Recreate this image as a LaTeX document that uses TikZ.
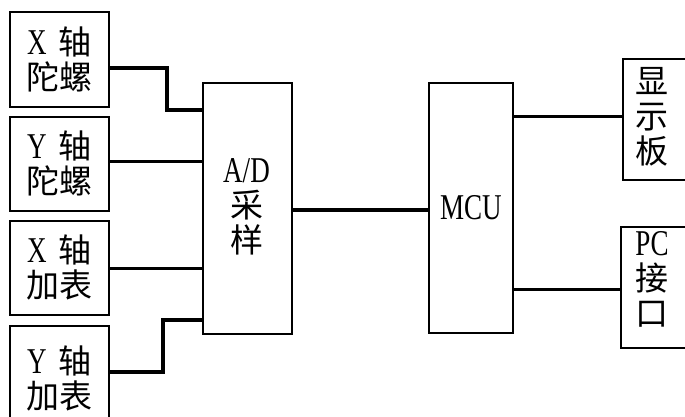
\documentclass[tikz,border=0pt]{standalone}
\usepackage{fontspec}
\setmainfont{Liberation Serif}
\newfontfamily\cjk{Noto Sans CJK SC}
\newcommand\zh[1]{{\cjk #1}}
\newcommand\lat[1]{\scalebox{0.82}[1.1]{#1}}
\begin{document}
\begin{tikzpicture}[x=1pt,y=-1pt,
  box/.style={draw,line width=1.8pt,rectangle,inner sep=0pt,anchor=north west},
  txt/.style={align=center,inner sep=0pt,font=\fontsize{33}{35}\selectfont},
  thin/.style={line width=3pt},
  thick/.style={line width=4.5pt}]
\useasboundingbox (0,0) rectangle (685,417);
% left boxes
\node[box,minimum width=99pt,minimum height=95pt] (xg) at (9,11) {};
\node[txt] (xgt) at (xg.center) {\lat{X}\hspace{12pt}\zh{轴}\\\zh{陀螺}};
\node[box,minimum width=99pt,minimum height=94pt] (yg) at (9,116) {};
\node[txt] (ygt) at (yg.center) {\lat{Y}\hspace{12pt}\zh{轴}\\\zh{陀螺}};
\node[box,minimum width=99pt,minimum height=94pt] (xa) at (9,220) {};
\node[txt] (xat) at (xa.center) {\lat{X}\hspace{12pt}\zh{轴}\\\zh{加表}};
\node[box,minimum width=99pt,minimum height=100pt] (ya) at (9,325) {};
\node[txt] (yat) at ([yshift=-3pt]ya.center) {\lat{Y}\hspace{12pt}\zh{轴}\\\zh{加表}};
% A/D
\node[box,minimum width=89pt,minimum height=251pt] (ad) at (202,82) {};
\node[txt] (adt) at (246.5,207) {\lat{A/D}\\\zh{采}\\\zh{样}};
% MCU
\node[box,minimum width=84pt,minimum height=250pt] (mcu) at (428,82) {};
\node[txt] (mcut) at (mcu.center) {\lat{MCU}};
% right boxes
\node[box,minimum width=90pt,minimum height=121pt] (disp) at (622,58) {};
\node[txt] (dispt) at (652,117) {\zh{显}\\\zh{示}\\\zh{板}};
\node[box,minimum width=90pt,minimum height=121pt] (pc) at (620,226) {};
\node[txt] (pct) at (652,279) {\lat{PC}\\\zh{接}\\\zh{口}};
% connectors
\coordinate (c1) at (167,68);
\coordinate (c2) at (163,372);
\draw[thick] (xg.east |- c1) -- (c1) |- (ad.west |- 0,110);
\draw[thin] (yg.east |- 0,161) -- (ad.west |- 0,161);
\draw[thin] (xa.east |- 0,268) -- (ad.west |- 0,268);
\draw[thick] (ya.east |- c2) -- (c2) |- (ad.west |- 0,320);
\draw[thick] (ad.east |- 0,210) -- (mcu.west |- 0,210);
\draw[thin] (mcu.east |- 0,117) -- (disp.west |- 0,117);
\draw[thin] (mcu.east |- 0,289) -- (pc.west |- 0,289);
\end{tikzpicture}
\end{document}
